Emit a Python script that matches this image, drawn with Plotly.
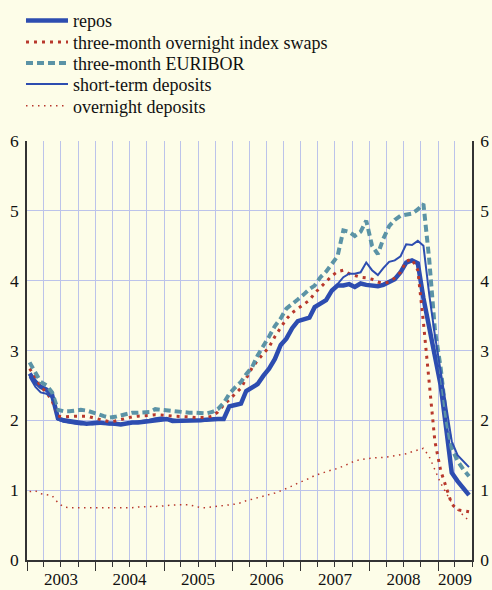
import pandas as pd
import plotly.graph_objects as go

# monthly observations, Jan 2003 - Jun 2009 (plotted at mid-month)
months = pd.date_range("2003-01-01", periods=78, freq="MS") + pd.Timedelta(days=14)

repos = [2.67, 2.55, 2.48, 2.44, 2.36, 2.03, 2.00, 1.99, 1.97, 1.96, 1.95, 1.96,
         1.97, 1.96, 1.96, 1.95, 1.94, 1.96, 1.97, 1.97, 1.98, 2.00, 2.01, 2.02,
         2.02, 1.99, 1.99, 2.00, 2.00, 2.00, 2.00, 2.01, 2.02, 2.02, 2.02, 2.20,
         2.22, 2.24, 2.42, 2.48, 2.52, 2.64, 2.74, 2.88, 3.08, 3.17, 3.32, 3.42,
         3.44, 3.47, 3.62, 3.68, 3.72, 3.86, 3.93, 3.93, 3.95, 3.91, 3.96, 3.94,
         3.93, 3.92, 3.94, 3.98, 4.02, 4.12, 4.26, 4.29, 4.25, 3.75, 3.35, 2.92,
         2.50, 1.85, 1.25, 1.13, 1.03, 0.93]

ois = [2.74, 2.62, 2.48, 2.40, 2.28, 2.06, 2.05, 2.06, 2.06, 2.06, 2.06, 2.04,
       2.02, 2.00, 1.98, 1.99, 2.01, 2.04, 2.05, 2.06, 2.06, 2.07, 2.08, 2.08,
       2.07, 2.06, 2.06, 2.05, 2.05, 2.04, 2.04, 2.04, 2.06, 2.12, 2.22, 2.30,
       2.37, 2.46, 2.60, 2.75, 2.86, 2.96, 3.05, 3.20, 3.33, 3.45, 3.54, 3.60,
       3.66, 3.72, 3.82, 3.90, 3.99, 4.07, 4.13, 4.15, 4.10, 4.07, 4.05, 4.04,
       4.02, 3.98, 3.96, 3.98, 4.04, 4.12, 4.28, 4.31, 4.15, 3.40, 2.55, 1.70,
       1.28, 1.03, 0.80, 0.72, 0.71, 0.69]

euribor = [2.83, 2.68, 2.55, 2.50, 2.40, 2.15, 2.13, 2.13, 2.14, 2.15, 2.14, 2.12,
           2.09, 2.06, 2.04, 2.05, 2.07, 2.09, 2.11, 2.11, 2.11, 2.12, 2.16, 2.15,
           2.14, 2.13, 2.12, 2.12, 2.11, 2.11, 2.10, 2.10, 2.12, 2.16, 2.25, 2.38,
           2.47, 2.55, 2.66, 2.76, 2.93, 3.06, 3.20, 3.35, 3.46, 3.60, 3.66, 3.73,
           3.80, 3.88, 3.93, 4.05, 4.13, 4.25, 4.35, 4.72, 4.70, 4.64, 4.70, 4.86,
           4.50, 4.38, 4.60, 4.78, 4.87, 4.93, 4.95, 4.96, 5.02, 5.10, 4.30, 3.30,
           2.75, 2.00, 1.60, 1.42, 1.30, 1.20]

short_term = [2.62, 2.48, 2.40, 2.38, 2.33, 2.01, 1.98, 1.96, 1.95, 1.94, 1.95, 1.94,
              1.95, 1.95, 1.94, 1.94, 1.95, 1.96, 1.97, 1.98, 2.00, 2.01, 2.03, 2.04,
              2.03, 2.01, 2.00, 2.00, 2.00, 2.00, 2.00, 2.01, 2.02, 2.02, 2.02, 2.20,
              2.22, 2.24, 2.42, 2.48, 2.52, 2.64, 2.74, 2.88, 3.08, 3.17, 3.32, 3.42,
              3.44, 3.47, 3.62, 3.68, 3.72, 3.86, 3.95, 4.05, 4.10, 4.10, 4.12, 4.26,
              4.15, 4.08, 4.18, 4.27, 4.29, 4.35, 4.52, 4.51, 4.57, 4.50, 3.80, 3.22,
              2.70, 2.15, 1.70, 1.50, 1.42, 1.33]

overnight = [0.98, 0.99, 0.95, 0.94, 0.92, 0.82, 0.76, 0.75, 0.75, 0.75, 0.75, 0.75,
             0.75, 0.74, 0.74, 0.74, 0.74, 0.74, 0.75, 0.76, 0.76, 0.77, 0.77, 0.77,
             0.78, 0.79, 0.79, 0.79, 0.79, 0.77, 0.75, 0.75, 0.76, 0.76, 0.77, 0.79,
             0.80, 0.82, 0.85, 0.87, 0.89, 0.91, 0.93, 0.96, 0.99, 1.02, 1.06, 1.10,
             1.13, 1.17, 1.21, 1.24, 1.26, 1.29, 1.31, 1.34, 1.38, 1.42, 1.44, 1.45,
             1.46, 1.46, 1.47, 1.48, 1.49, 1.50, 1.52, 1.55, 1.58, 1.60, 1.48, 1.30,
             1.10, 0.95, 0.82, 0.72, 0.64, 0.56]

year_labels = ["2003", "2004", "2005", "2006", "2007", "2008", "2009"]
year_label_pos = ["2003-07-01", "2004-07-01", "2005-07-01", "2006-07-01",
                  "2007-07-01", "2008-07-01", "2009-04-01"]
y_ticks = [0, 1, 2, 3, 4, 5, 6]

BLUE = "#2d4db0"
RED = "#b8382c"
TEAL = "#5b93a6"
BG = "#fdfde8"
GRID = "#bcc3ea"
FONT = "Liberation Serif, Times New Roman, serif"
INK = "#111111"

# one legend per row so the row spacing matches the original
legend_rows = [1.287, 1.2356, 1.1854, 1.1353, 1.0835]
legend_names = ["legend", "legend2", "legend3", "legend4", "legend5"]

fig = go.Figure()
fig.add_trace(go.Scatter(x=months, y=repos, name="repos", mode="lines",
                         line=dict(color=BLUE, width=4.5), legend="legend"))
fig.add_trace(go.Scatter(x=months, y=ois, name="three-month overnight index swaps", mode="lines",
                         line=dict(color=RED, width=3, dash="3px,5px"), legend="legend2"))
fig.add_trace(go.Scatter(x=months, y=euribor, name="three-month EURIBOR", mode="lines",
                         line=dict(color=TEAL, width=4, dash="7px,4px"), legend="legend3"))
fig.add_trace(go.Scatter(x=months, y=short_term, name="short-term deposits", mode="lines",
                         line=dict(color=BLUE, width=2), legend="legend4"))
fig.add_trace(go.Scatter(x=months, y=overnight, name="overnight deposits", mode="lines",
                         line=dict(color=RED, width=1.5, dash="1.5px,4.5px"),
                         xaxis="x2", yaxis="y2", legend="legend5"))

legend_layout = {}
for name, ypos in zip(legend_names, legend_rows):
    legend_layout[name] = dict(x=-0.0135, y=ypos, xanchor="left", yanchor="middle",
                               bgcolor="rgba(0,0,0,0)", borderwidth=0,
                               font=dict(family=FONT, size=18, color=INK),
                               itemwidth=42)

xrange = ["2003-01-01", "2009-07-01"]
fig.update_layout(
    width=492, height=590,
    margin=dict(l=27, r=20, t=141, b=30, autoexpand=False),
    paper_bgcolor=BG, plot_bgcolor=BG,
    font=dict(family=FONT, size=17.5, color=INK),
    showlegend=True,
    **legend_layout,
    xaxis=dict(type="date", range=xrange, tickmode="array", tickvals=year_label_pos,
               ticktext=year_labels, ticks="", showgrid=False, showline=True,
               linecolor="#333333", linewidth=1.5, zeroline=False,
               ticklabelstandoff=3, tickfont=dict(family=FONT, size=17, color=INK),
               minor=dict(tickmode="linear", tick0="2003-01-01", dtick="M3",
                          ticks="outside", ticklen=5, tickcolor="#333333", tickwidth=1.2,
                          showgrid=True, gridcolor=GRID, gridwidth=1)),
    xaxis2=dict(type="date", range=xrange, overlaying="x", anchor="y", side="bottom",
                tick0="2003-01-01", dtick="M12", ticks="outside", ticklen=10,
                tickcolor="#333333", tickwidth=1.2, showticklabels=False,
                showgrid=False, showline=False, zeroline=False),
    yaxis=dict(range=[0, 6], tickvals=y_ticks, ticks="", showgrid=True, gridcolor=GRID,
               gridwidth=1, showline=True, linecolor="#333333", linewidth=1.5,
               zeroline=False, ticklabelstandoff=3),
    yaxis2=dict(range=[0, 6], tickvals=y_ticks, ticks="", overlaying="y", side="right",
                anchor="x", showgrid=False, showline=True, linecolor="#333333",
                linewidth=1.5, zeroline=False, ticklabelstandoff=3),
)

fig.write_html("out.html", config={"displayModeBar": False},
               post_script="document.body.style.margin='0px';"
                           "document.body.style.background='" + BG + "';")
